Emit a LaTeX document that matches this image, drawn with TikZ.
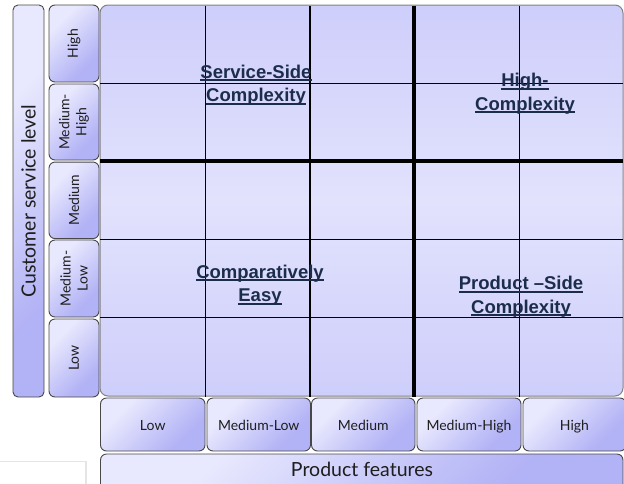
\documentclass[tikz,border=0pt]{standalone}
\usepackage{fontspec}
\setmainfont{Lato}
\newfontfamily\qfont{Liberation Sans}
\definecolor{gdark}{RGB}{186,186,249}
\definecolor{glight}{RGB}{226,226,253}
\definecolor{bl}{RGB}{232,232,254}
\definecolor{bd}{RGB}{178,178,246}
\definecolor{bord}{RGB}{72,72,72}
\definecolor{gbord}{RGB}{130,130,130}
\definecolor{qtext}{RGB}{28,45,76}
\definecolor{ltxt}{RGB}{30,30,30}
\definecolor{faint}{RGB}{229,229,229}
\pgfdeclarehorizontalshading{diagsh}{100bp}{color(0bp)=(bl); color(30bp)=(bl); color(70bp)=(bd); color(100bp)=(bd)}
\pgfdeclareverticalshading{gridsh}{100bp}{color(0bp)=(gdark); color(50bp)=(glight); color(100bp)=(gdark)}
\newcommand\ulx[1]{\setbox0=\hbox{#1}\rlap{\rule[-3.3pt]{\wd0}{2pt}}\box0}
\tikzset{
  lblbox/.style={draw=bord, line width=0.9pt, rounded corners=6pt, shading=diagsh, shading angle=-45, inner sep=0pt, outer sep=0pt},
  rowtxt/.style={rotate=90, font=\fontsize{14}{17}\selectfont, text=ltxt, align=center, inner sep=0pt},
  btntxt/.style={font=\fontsize{14}{17}\selectfont, text=ltxt, inner sep=0pt, anchor=base},
  bigtxt/.style={font=\fontsize{19.5}{23}\selectfont, text=ltxt, inner sep=0pt},
  qlab/.style={font=\qfont\bfseries\fontsize{18.5}{23.5}\selectfont, text=qtext, align=center, inner sep=0pt, anchor=north},
  thinln/.style={draw=black, line width=1.1pt},
  thickln/.style={draw=black, line width=4pt},
}
\begin{document}
\begin{tikzpicture}[x=1pt,y=-1pt]
\useasboundingbox (0,0) rectangle (624,483);
\clip (0,0) rectangle (624,483);
% faint box bottom-left
\node[draw=faint, line width=1.5pt, fill=white, minimum width=92, minimum height=40, inner sep=0pt, anchor=north east] (fbox) at (86.5,460.5) {};
% customer service level bar
\node[lblbox, rounded corners=5pt, minimum width=31, minimum height=392] (cbar) at (28.5,201) {};
\node[bigtxt, rotate=90] (ctxt) at (cbar) {Customer service level};
% row labels
\node[lblbox, minimum width=50, minimum height=77] (r1) at (74,43.5) {};
\node[lblbox, minimum width=50, minimum height=76] (r2) at (74,122) {};
\node[lblbox, minimum width=50, minimum height=76.5] (r3) at (74,200.3) {};
\node[lblbox, minimum width=50, minimum height=77] (r4) at (74,278.5) {};
\node[lblbox, minimum width=50, minimum height=78] (r5) at (74,358) {};
\node[rowtxt] (t1) at (r1) {High};
\node[rowtxt] (t2) at (r2) {Medium-\\High};
\node[rowtxt] (t3) at (r3) {Medium};
\node[rowtxt] (t4) at (r4) {Medium-\\Low};
\node[rowtxt] (t5) at (r5) {Low};
% main grid
\node[draw=gbord, line width=1pt, rounded corners=8pt, shading=gridsh, minimum width=523, minimum height=391, inner sep=0pt, outer sep=0pt] (grid) at (361.5,200.5) {};
% grid lines
\coordinate (v1t) at (205.7,5.5); \coordinate (v1b) at (205.7,396.5);
\coordinate (v2t) at (310,5.5);   \coordinate (v2b) at (310,396.5);
\coordinate (v4t) at (519.3,5.5); \coordinate (v4b) at (519.3,396.5);
\coordinate (v3t) at (414.3,5.5); \coordinate (v3b) at (414.3,396.5);
\coordinate (h1l) at (100,83.3);  \coordinate (h1r) at (623,83.3);
\coordinate (h3l) at (100,239.3); \coordinate (h3r) at (623,239.3);
\coordinate (h4l) at (100,317.3); \coordinate (h4r) at (623,317.3);
\coordinate (h2l) at (100,160.5); \coordinate (h2r) at (622.5,160.5);
\draw[thinln] (v1t) -- (v1b);
\draw[thinln] (v2t) -- (v2b);
\draw[thinln] (v4t) -- (v4b);
\draw[thinln] (h1l) -- (h1r);
\draw[thinln] (h3l) -- (h3r);
\draw[thinln] (h4l) -- (h4r);
\draw[thickln] (h2l) -- (h2r);
\draw[thickln] (v3t) -- (v3b);
% quadrant labels
\node[qlab] (qss) at (256,64.5) {\ulx{Service-Side}\\\ulx{Complexity}};
\node[qlab] (qhc) at (525,73) {\ulx{High-}\\\ulx{Complexity}};
\node[qlab] (qce) at (260,264.5) {\ulx{Comparatively}\\\ulx{Easy}};
\node[qlab] (qps) at (521,276) {\ulx{Product –Side}\\\ulx{Complexity}};
% bottom buttons
\node[lblbox, minimum width=104.5, minimum height=53] (b1) at (152.75,424.5) {};
\node[lblbox, minimum width=103.5, minimum height=53] (b2) at (258.75,424.5) {};
\node[lblbox, minimum width=103.5, minimum height=53] (b3) at (363.25,424.5) {};
\node[lblbox, minimum width=104, minimum height=53] (b4) at (469,424.5) {};
\node[lblbox, minimum width=103, minimum height=53] (b5) at (574.5,424.5) {};
\node[btntxt] (bt1) at (b1 |- 0,430) {Low};
\node[btntxt] (bt2) at (b2 |- 0,430) {Medium-Low};
\node[btntxt] (bt3) at (b3 |- 0,430) {Medium};
\node[btntxt] (bt4) at (b4 |- 0,430) {Medium-High};
\node[btntxt] (bt5) at (b5 |- 0,430) {High};
% product features bar
\node[lblbox, minimum width=522.5, minimum height=36] (pbar) at (361.75,472) {};
\node[bigtxt, anchor=base] (ptxt) at (362,476.7) {Product features};
\end{tikzpicture}
\end{document}
